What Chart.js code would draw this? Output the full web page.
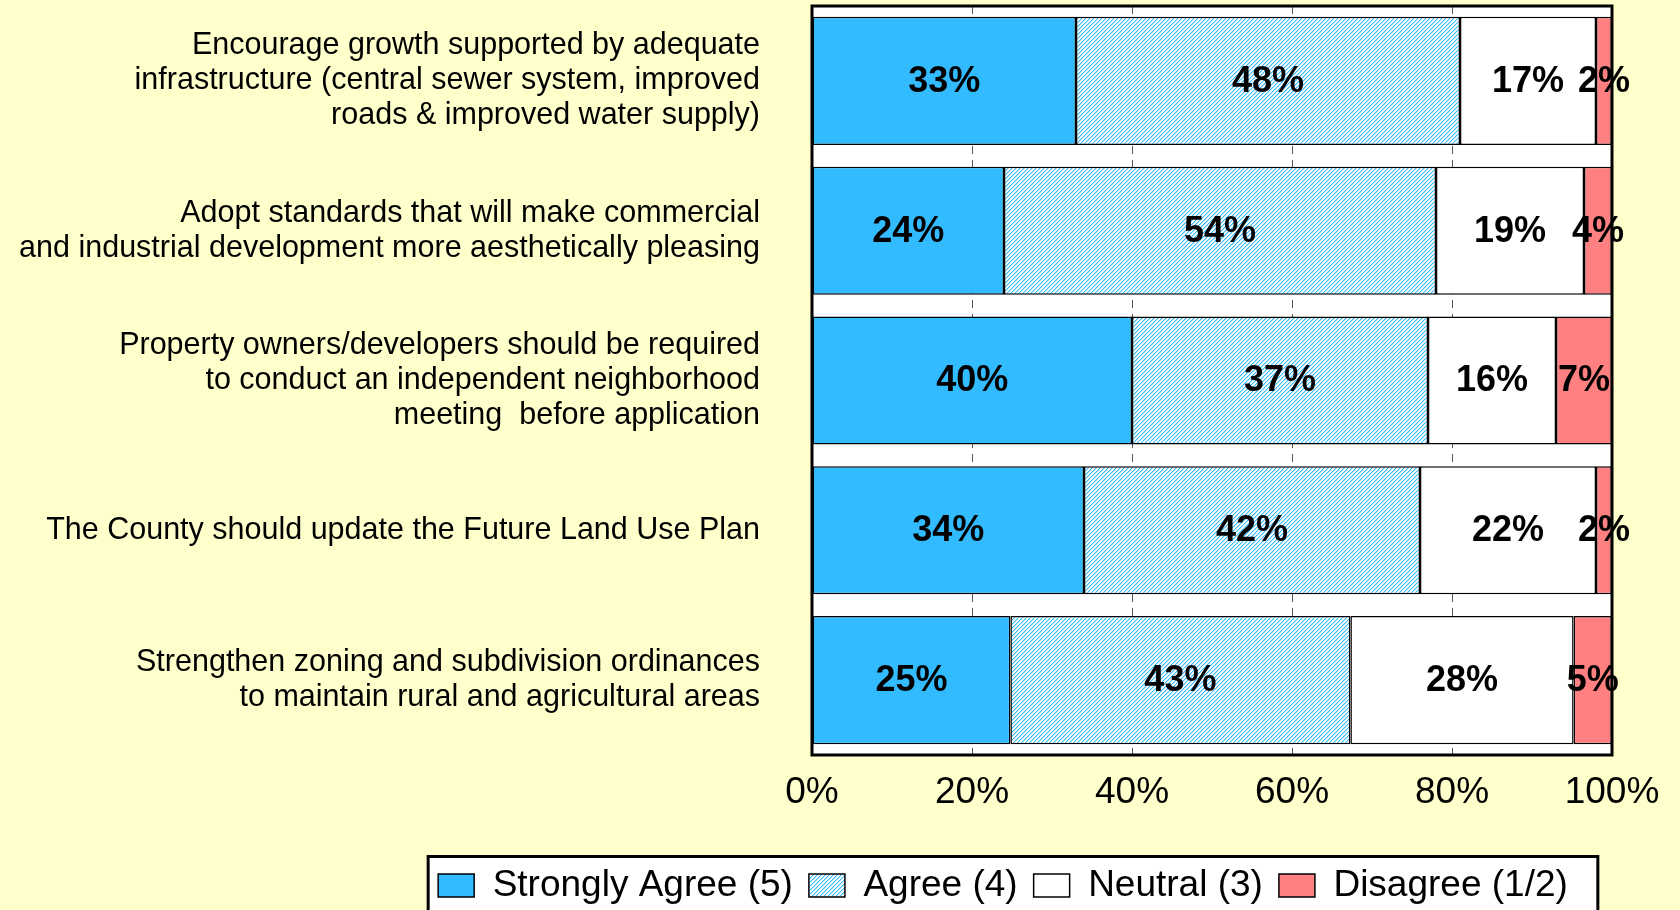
<!DOCTYPE html>
<html>
<head>
<meta charset="utf-8">
<title>Survey results</title>
<script src="https://cdn.jsdelivr.net/npm/chart.js@4.4.1/dist/chart.umd.min.js"></script>
<style>
    html, body { margin: 0; padding: 0; background: #FFFFCC; }
    canvas { display: block; }
</style>
</head>
<body>
<canvas id="surveyChart" width="1680" height="910"></canvas>
<script>
const categories = [
    ["Encourage growth supported by adequate", "infrastructure (central sewer system, improved", "roads & improved water supply)"],
    ["Adopt standards that will make commercial", "and industrial development more aesthetically pleasing"],
    ["Property owners/developers should be required", "to conduct an independent neighborhood", "meeting  before application"],
    "The County should update the Future Land Use Plan",
    ["Strengthen zoning and subdivision ordinances", "to maintain rural and agricultural areas"]
];

const seriesNames = ["Strongly Agree (5)", "Agree (4)", "Neutral (3)", "Disagree (1/2)"];

// percent of answers
const stronglyAgree = [33, 24, 40, 34, 24.8];
const agree = [48, 54, 37, 42, 42.5];
const neutral = [17, 18.5, 16, 22, 27.9];
const disagree = [2, 3.5, 7, 2, 4.8];

const xTickLabels = ["0%", "20%", "40%", "60%", "80%", "100%"];

const FONT = '"Liberation Sans", Arial, sans-serif';

const canvas = document.getElementById("surveyChart");
const ctx = canvas.getContext("2d");

// Small diagonal hatch used for the "Agree" bars
function makeHatch() {
    const tile = document.createElement("canvas");
    tile.width = 4;
    tile.height = 4;
    const t = tile.getContext("2d");
    t.fillStyle = "#ffffff";
    t.fillRect(0, 0, 4, 4);
    t.fillStyle = "#33BBFF";
    for (let i = 0; i < 4; i++) t.fillRect(i, 3 - i, 1, 1);
    t.fillStyle = "#B5E4FF";
    for (let i = 0; i < 4; i++) t.fillRect(i, (4 - i) % 4, 1, 1);
    return ctx.createPattern(tile, "repeat");
}

// White plot area, boxed legend, frame and value labels
const backdrop = {
    id: "backdrop",
    afterLayout(chart) {
        // the legend sits off-centre in the original, under the plot
        chart.legend.left = 394;
    },
    beforeDraw(chart) {
        const c = chart.ctx;
        const area = chart.chartArea;
        c.save();
        c.fillStyle = "#ffffff";
        c.fillRect(area.left, area.top, area.right - area.left, area.bottom - area.top);

        const boxes = chart.legend.legendHitBoxes;
        if (boxes && boxes.length) {
            const first = boxes[0];
            const last = boxes[boxes.length - 1];
            const left = first.left - 10;
            const right = last.left + last.width + 30;
            const top = first.top - 10.5;
            c.fillStyle = "#ffffff";
            c.fillRect(left, top, right - left, 120);
            c.strokeStyle = "#000000";
            c.lineWidth = 3;
            c.strokeRect(left, top, right - left, 120);
        }
        c.restore();
    },
    afterDraw(chart) {
        const c = chart.ctx;
        const area = chart.chartArea;
        c.save();
        c.strokeStyle = "#000000";
        c.lineWidth = 3;
        c.strokeRect(area.left, area.top, area.right - area.left, area.bottom - area.top);

        c.font = "bold 36px " + FONT;
        c.fillStyle = "#000000";
        c.textAlign = "center";
        c.textBaseline = "middle";
        chart.data.datasets.forEach((ds, i) => {
            chart.getDatasetMeta(i).data.forEach((bar, j) => {
                const { x, y, base } = bar.getProps(["x", "y", "base"], true);
                c.fillText(Math.round(ds.data[j]) + "%", (x + base) / 2, y + 1);
            });
        });
        c.restore();
    }
};

const barStyle = {
    borderColor: "#000000",
    borderWidth: 1.5,
    borderSkipped: false,
    barPercentage: 0.855,
    categoryPercentage: 1
};

new Chart(ctx, {
    type: "bar",
    data: {
        labels: categories,
        datasets: [
            { label: seriesNames[0], data: stronglyAgree, backgroundColor: "#33BBFF", ...barStyle },
            { label: seriesNames[1], data: agree, backgroundColor: makeHatch(), ...barStyle },
            { label: seriesNames[2], data: neutral, backgroundColor: "#ffffff", ...barStyle },
            { label: seriesNames[3], data: disagree, backgroundColor: "#FF8080", ...barStyle }
        ]
    },
    options: {
        indexAxis: "y",
        responsive: false,
        animation: false,
        layout: {
            padding: { left: 0, right: 68, top: 6, bottom: -4 }
        },
        scales: {
            x: {
                stacked: true,
                min: 0,
                max: 100,
                ticks: {
                    stepSize: 20,
                    color: "#000000",
                    padding: 16,
                    font: { family: FONT, size: 37 },
                    callback: (value, index) => xTickLabels[index]
                },
                grid: { color: "#555555", lineWidth: 1, drawTicks: false },
                border: { display: false, dash: [8, 6] },
                afterFit: axis => { axis.height = 96; }
            },
            y: {
                stacked: true,
                ticks: {
                    color: "#000000",
                    padding: 52,
                    font: { family: FONT, size: 30.5, lineHeight: 1.15 }
                },
                grid: { display: false, drawTicks: false },
                border: { display: false },
                afterFit: axis => {
                    axis.width = 812;
                    axis.paddingTop = 0;
                    axis.paddingBottom = 0;
                }
            }
        },
        plugins: {
            legend: {
                position: "bottom",
                labels: {
                    color: "#000000",
                    boxWidth: 36,
                    boxHeight: 23,
                    padding: 16,
                    font: { family: FONT, size: 37 }
                }
            },
            tooltip: { enabled: false }
        }
    },
    plugins: [backdrop]
});
</script>
</body>
</html>
